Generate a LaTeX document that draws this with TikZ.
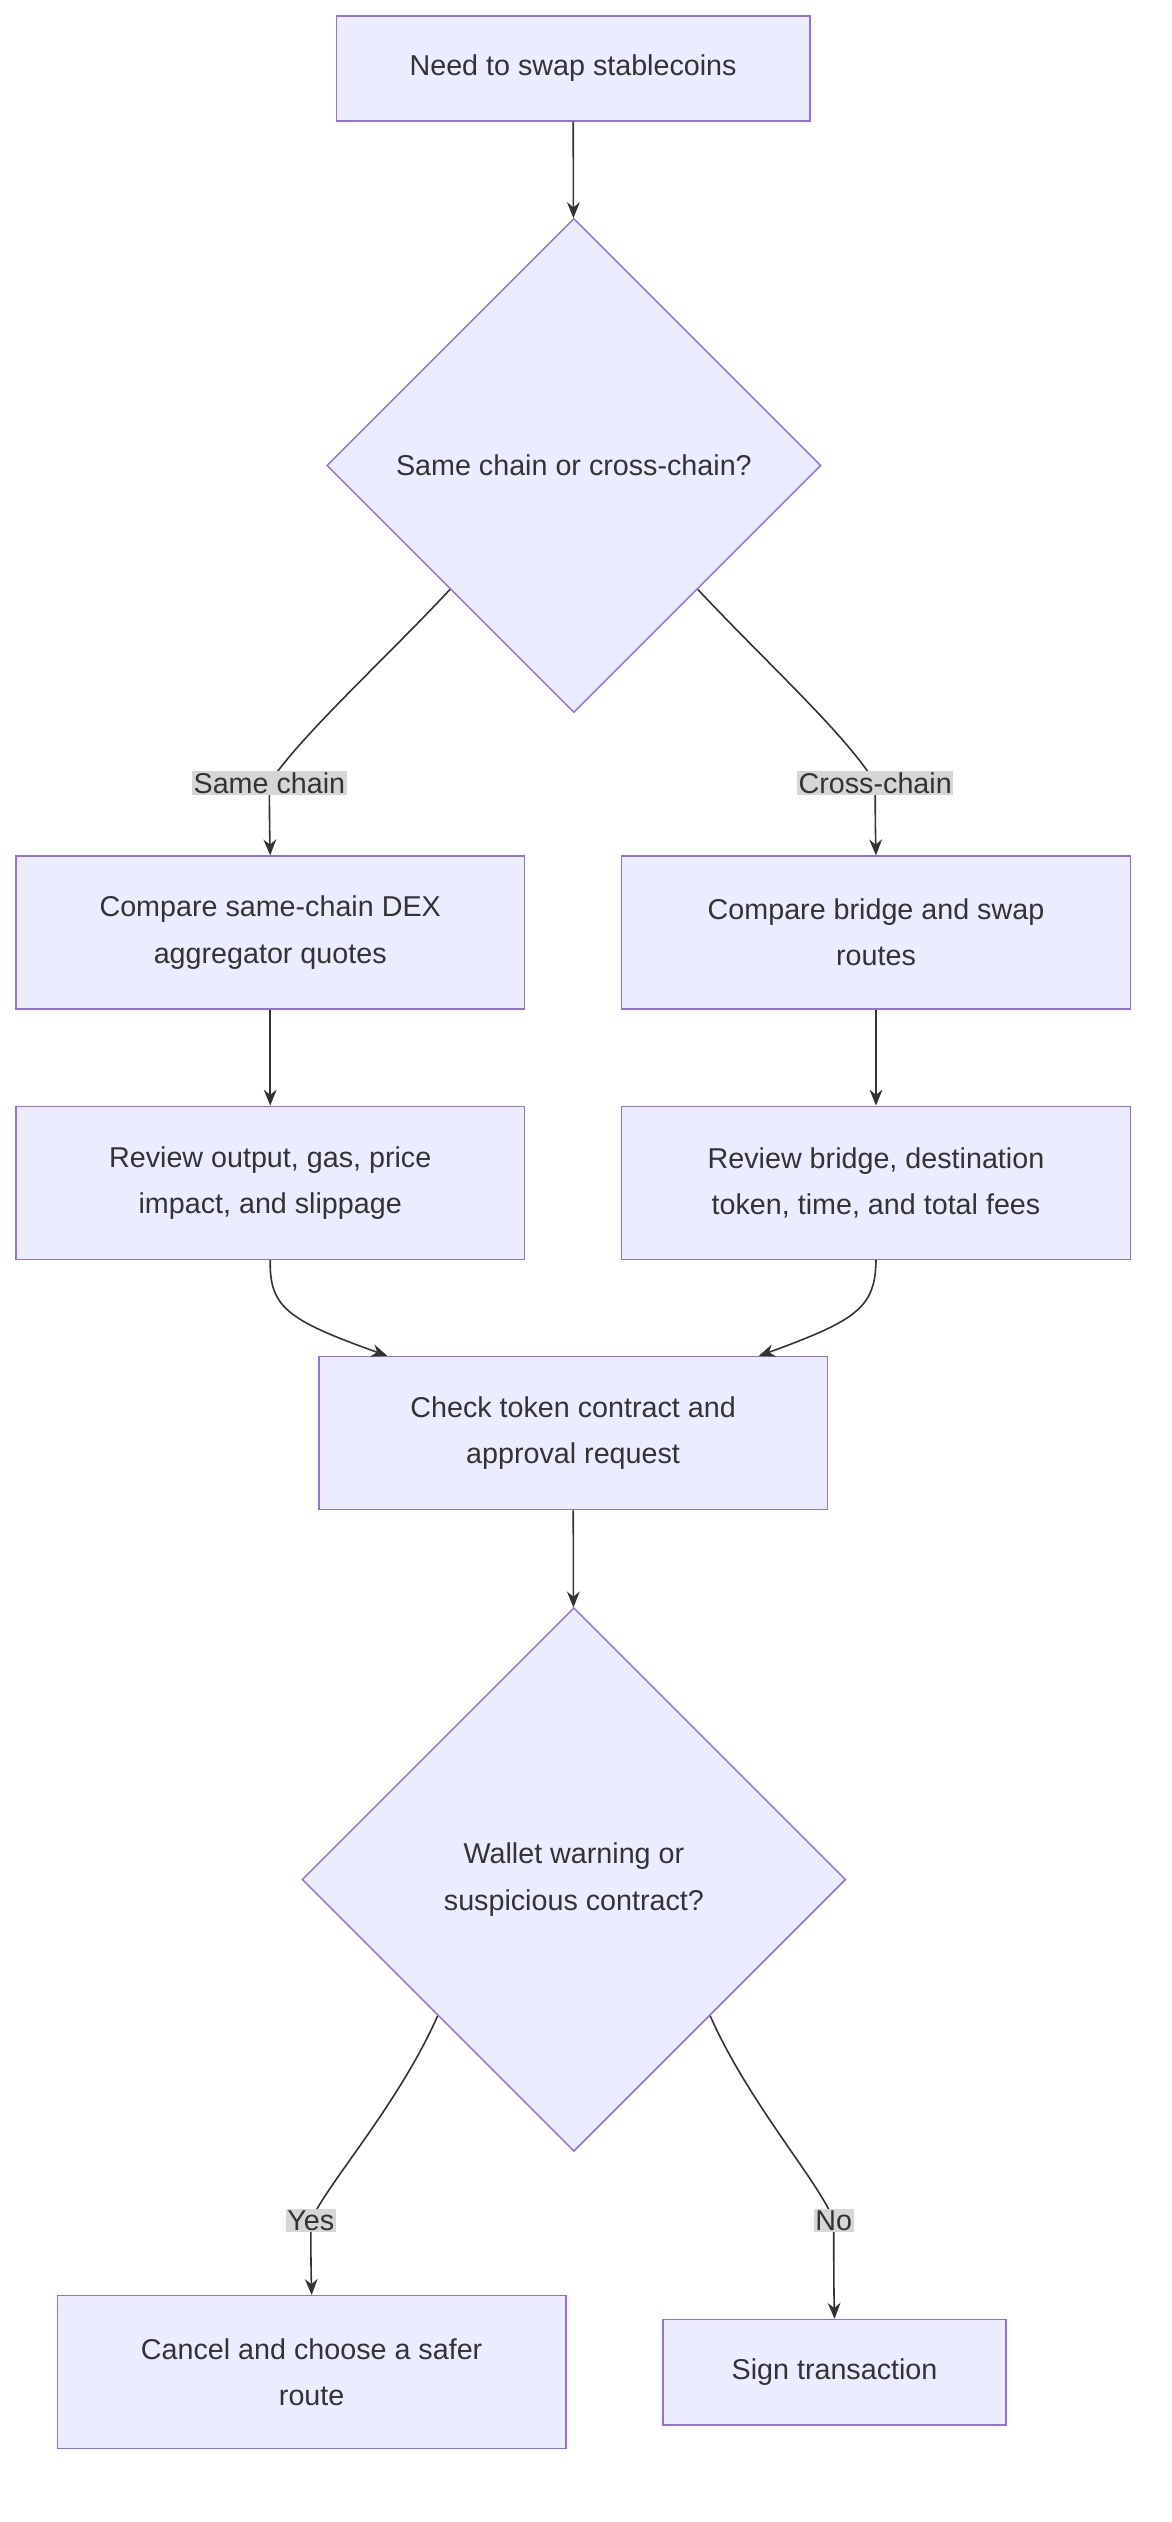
\documentclass[tikz,border=0pt]{standalone}
\usepackage{fontspec}
\setmainfont{Liberation Sans}
\usetikzlibrary{shapes.geometric,arrows.meta}
\definecolor{nfill}{HTML}{ECECFF}
\definecolor{nstroke}{HTML}{9370DB}
\definecolor{txt}{HTML}{333333}
\definecolor{lbg}{HTML}{D6D6D6}
\begin{document}
\begin{tikzpicture}[x=1pt,y=-1pt,
  box/.style={draw=nstroke,fill=nfill,line width=0.9pt,minimum width=#1,align=center,text=txt,font=\fontsize{18}{29}\selectfont,inner sep=0pt},
  dia/.style={diamond,draw=nstroke,fill=nfill,line width=0.9pt,minimum width=#1,minimum height=#1,inner sep=0pt,align=center,text=txt,font=\fontsize{18}{29}\selectfont},
  lab/.style={fill=lbg,text=txt,font=\fontsize{18}{22}\selectfont,inner sep=1pt},
  e/.style={draw=txt,line width=1pt},
  a/.style={e,-{Stealth[length=10pt,width=8pt]}}]
\useasboundingbox (0,0) rectangle (735,1582);
\node[box=297pt,minimum height=66pt] (s) at (359.5,43) {Need to swap stablecoins};
\node[dia=310pt] (d1) at (360,292) {Same chain or cross-chain?};
\node[box=319pt,minimum height=96pt] (a1) at (169.5,585) {Compare same-chain DEX\\aggregator quotes};
\node[box=319pt,minimum height=96pt] (b1) at (549.5,585) {Compare bridge and swap\\routes};
\node[box=319pt,minimum height=96pt] (a2) at (169.5,742) {Review output, gas, price\\impact, and slippage};
\node[box=319pt,minimum height=96pt] (b2) at (549.5,742) {Review bridge, destination\\token, time, and total fees};
\node[box=319pt,minimum height=96pt] (c) at (359.5,899) {Check token contract and\\approval request};
\node[dia=341pt] (d2) at (360,1179) {Wallet warning or\\suspicious contract?};
\node[box=319pt,minimum height=96pt] (x) at (195.5,1488) {Cancel and choose a safer\\route};
\node[box=215pt,minimum height=66pt] (y) at (523.5,1488) {Sign transaction};
\coordinate (l1) at (169,491);
\coordinate (l2) at (549,491);
\coordinate (l3) at (195,1393);
\coordinate (l4) at (523,1393);
\draw[a] (s) -- (d1);
\draw[a] (d1.south west) .. controls (240,415) and (190,460) .. (l1) .. controls (169,505) and (169,515) .. (a1.north);
\draw[a] (d1.south east) .. controls (480,415) and (530,460) .. (l2) .. controls (549,505) and (549,515) .. (b1.north);
\draw[a] (a1) -- (a2);
\draw[a] (b1) -- (b2);
\draw[a] (a2.south) .. controls (169,820) and (180,828) .. (c.north west -| 243,851);
\draw[a] (b2.south) .. controls (549,820) and (538,828) .. (c.north east -| 476,851);
\draw[a] (c) -- (d2);
\draw[a] (d2.south west) .. controls (250,1320) and (205,1370) .. (l3) .. controls (195,1410) and (195,1420) .. (x.north);
\draw[a] (d2.south east) .. controls (470,1320) and (515,1370) .. (l4) .. controls (523,1420) and (523,1435) .. (y.north);
\node[lab] at (l1) {Same chain};
\node[lab] at (l2) {Cross-chain};
\node[lab] at (l3) {Yes};
\node[lab] at (l4) {No};
\end{tikzpicture}
\end{document}
